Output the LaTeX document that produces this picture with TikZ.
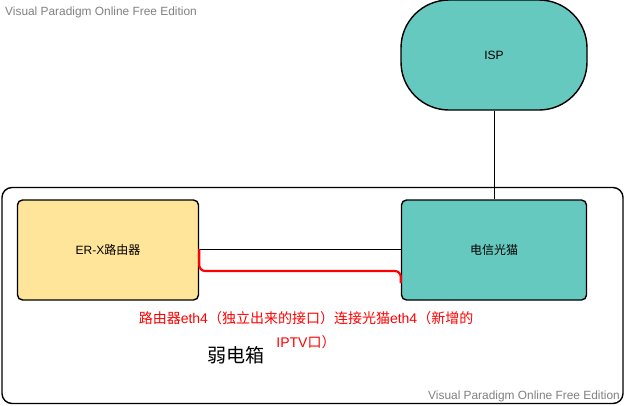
\documentclass[tikz,border=0pt]{standalone}
\usepackage{fontspec}
\setmainfont{Liberation Sans}
\newfontfamily\cjk{Noto Sans CJK SC}
\definecolor{teal1}{HTML}{66C9BF}
\definecolor{yellow1}{HTML}{FFE59A}
\definecolor{wm}{HTML}{808080}
\begin{document}
\begin{tikzpicture}[x=1pt,y=-1pt,
  box/.style={draw=black,line width=1.4pt,rounded corners=5pt,inner sep=0pt},
  wmtext/.style={text=wm,font=\fontsize{11.9}{14}\selectfont,inner sep=0pt},
  lbl/.style={font=\fontsize{12}{14}\selectfont,inner sep=0pt}]
\useasboundingbox (0,0) rectangle (626,405);
\node[wmtext,anchor=west] (wm1) at (5,12) {Visual Paradigm Online Free Edition};
% outer container
\node[draw=black,line width=1.4pt,rounded corners=10pt,minimum width=621pt,minimum height=216pt,inner sep=0pt] (outer) at (312.5,295.5) {};
\node[wmtext,anchor=east] (wm2) at (620,396) {Visual Paradigm Online Free Edition};
% ISP
\node[box,fill=teal1,rounded corners=48pt,minimum width=186pt,minimum height=110pt] (isp) at (494,55) {};
\node[lbl] (ispl) at (isp.center) {ISP};
% router
\node[box,fill=yellow1,minimum width=181pt,minimum height=100pt] (router) at (108,250) {};
\node[lbl] (routerl) at (router.center) {ER-X{\cjk 路由器}};
% modem
\node[box,fill=teal1,minimum width=185pt,minimum height=100pt] (modem) at (494,250) {};
\node[lbl] (modeml) at (modem.center) {\cjk 电信光猫};
% connectors
\draw[line width=0.8pt] (isp.south) -- (modem.north);
\draw[line width=0.8pt] ([yshift=1pt]router.east) -- ([yshift=1pt]modem.west);
\draw[red,line width=2.2pt,rounded corners=6pt] ([yshift=1pt]router.east) |- ([yshift=-21pt]modem.west) -- ([yshift=-33pt]modem.west);
% labels
\node[font=\fontsize{14}{16}\selectfont,text=red,inner sep=0pt] (note1) at (306,318) {{\cjk 路由器}eth4{\cjk （独立出来的接口）连接光猫}eth4{\cjk （新增的}};
\node[font=\fontsize{14}{16}\selectfont,text=red,inner sep=0pt] (note2) at (306,342) {IPTV{\cjk 口）}};
\node[font=\cjk\fontsize{19}{22}\selectfont,inner sep=0pt] (box) at (236,355) {弱电箱};
\end{tikzpicture}
\end{document}
